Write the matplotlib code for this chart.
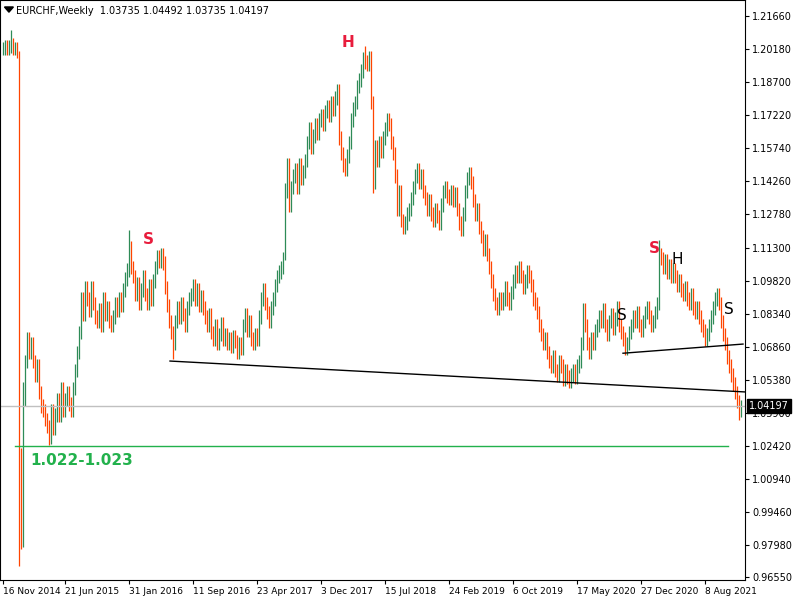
import matplotlib
matplotlib.use("Agg")
import matplotlib.pyplot as plt

closes = [1.202,1.203,1.202,1.203,1.204,1.202,1.202,1.201,
          1.012,0.985,1.045,
          1.062,1.072,1.066,1.070, 1.062,1.056,1.060,1.048, 1.042,1.040,1.036,
          1.033,1.028,1.040,1.032,1.038, 1.045,1.038,1.050,1.040,1.045,
          1.048,1.043,1.040,1.050,1.058, 1.066,1.075, 1.090,1.083,1.095,
          1.090,1.085,1.095,1.088,1.082,
          1.080,1.085,1.078,1.090,1.083,1.086,1.080,1.078,1.082,1.088,
          1.085,1.090,1.087,1.094,1.099,1.103, 1.113,1.104,
          1.100,1.092,1.097,1.088, 1.094,1.100,1.092,1.088,1.096,1.090,1.098,
          1.104,1.109,1.107,1.110,1.106, 1.095,1.087,1.080,1.075, 1.070,
          1.080,1.086,1.082,1.088,1.083,1.078,1.086,1.090,
          1.092,1.096,1.090,1.094,1.087,1.091,1.086,
          1.082,1.078,1.083,1.075,1.072,1.078,1.070,1.074,1.079,1.072,
          1.074,1.070,1.072,1.069,1.073,1.071,
          1.066,1.070,1.068,1.078,1.083,1.076,1.080,1.072,1.070,1.074,1.072,
          1.082,1.090,1.094,1.088,1.084,1.080,1.086,1.090,1.096,1.100,
          1.102,1.104,1.108, 1.138, 1.150,1.132,1.140,1.145,
          1.148,1.140,1.150,1.144,1.147,1.152,
          1.160,1.166,1.158,1.163,1.168,1.164,1.170,
          1.172,1.168,1.174,1.176,1.172,1.178,1.175,1.180,1.183,
          1.162,1.155,1.150,1.148,1.154,1.160,1.170,
          1.175,1.178,1.185,1.188,1.192, 1.200,1.196,1.195,1.198,
          1.178,1.142, 1.158,1.152,1.160,1.156,
          1.162,1.166,1.170,1.168,1.160,1.155, 1.145,1.130,1.138,1.125,
          1.122,1.124,1.128,1.130,1.135, 1.140,1.145,1.148,1.142,1.145,1.138,1.135,
          1.130,1.134,1.128,1.125,1.130,1.127,1.124,1.132,
          1.138,1.140,1.136,1.135,1.138,1.134,1.137,1.130,
          1.124,1.121,1.128, 1.138,1.144,1.146,1.142,
          1.134,1.128,1.130,1.122,1.118,1.112,1.116,1.110,1.104,
          1.098,1.092,1.088,1.086,1.090, 1.088,1.090,1.095,1.090,1.088,1.093,
          1.098,1.102,1.100,1.104,1.100,1.095,1.098,1.102,1.100,1.096,
          1.090,1.088,1.084,1.078,1.074,1.070,1.072,1.066,
          1.062,1.060,1.064,1.058,1.056,1.062,1.060,1.054,1.058,1.055,1.053,
          1.056,1.058,1.055,1.060,1.062, 1.070,1.085,
          1.078,1.070,1.066,1.072,1.070,1.076,
          1.078,1.082,1.080,1.085,1.078,1.074,1.080,1.083,1.077,1.081,1.086,1.078,1.075,
          1.072,1.068,1.070,1.075,
          1.078,1.082,1.080,1.084,1.078,1.076,1.080,1.084,1.086,1.082,1.078,1.080,1.084,1.088,
          1.110,1.108, 1.104,1.107,1.102,1.105,1.100,1.103,
          1.100,1.096,1.098,1.094,1.092,1.095,1.090,1.088,1.092,1.086,1.084,1.086,
          1.082,1.078,1.076,1.072,1.074, 1.078,1.082,1.086,1.090,1.092,1.088,
          1.080,1.074,1.070,1.064, 1.060,1.056,1.052, 1.048,1.044,1.039,1.04197]

high_override = {4: 1.2103, 8: 1.2010, 9: 1.0232, 10: 1.0530, 63: 1.1208,
                 141: 1.1418, 180: 1.2005, 328: 1.1163, 369: 1.04492}
low_override = {8: 0.9704, 9: 0.9780, 10: 0.9790, 23: 1.0246, 85: 1.0631,
                141: 1.1074, 185: 1.1374, 369: 1.03735}
wick = 0.003

x_labels = ["16 Nov 2014", "21 Jun 2015", "31 Jan 2016", "11 Sep 2016", "23 Apr 2017",
            "3 Dec 2017", "15 Jul 2018", "24 Feb 2019", "6 Oct 2019", "17 May 2020",
            "27 Dec 2020", "8 Aug 2021"]
x_label_idx = [0, 31, 63, 95, 127, 159, 191, 223, 255, 287, 319, 351]
y_ticks = [1.21660, 1.20180, 1.18700, 1.17220, 1.15740, 1.14260, 1.12780, 1.11300,
           1.09820, 1.08340, 1.06860, 1.05380, 1.03900, 1.02420, 1.00940, 0.99460,
           0.97980, 0.96550]

fig = plt.figure(figsize=(8, 6), dpi=100)
ax = fig.add_axes([0.0, 20/600, 745/800, 580/600])
ymin, ymax = 0.9642, 1.2238
ax.set_ylim(ymin, ymax)
ax.set_xlim(-1.5, 371)

up_c, dn_c = "#2e8b57", "#ff4500"
prev = closes[0]
for i, c in enumerate(closes):
    o = prev
    h = high_override.get(i, max(o, c) + wick)
    l = low_override.get(i, min(o, c) - wick)
    ax.vlines(i, l, h, color=up_c if c >= o else dn_c, lw=0.9)
    prev = c

ax.plot([83.5, 372.5], [1.0622, 1.0483], color="black", lw=1)
ax.plot([310, 370], [1.0657, 1.0698], color="black", lw=1)
ax.plot([6, 362.5], [1.0241, 1.0241], color="#22b14c", lw=1)
ax.axhline(closes[-1], color="#c0c0c0", lw=1)

ax.text(13.5, 1.0175, "1.022-1.023", color="#22b14c", fontsize=11,
        fontweight="bold", ha="left", va="center")
for xi, yv, t, col in [(72.5, 1.1166, "S", "#e81c3c"), (172.5, 1.2048, "H", "#e81c3c"),
                       (325.5, 1.1126, "S", "#e81c3c"), (337, 1.1077, "H", "black"),
                       (309.5, 1.0827, "S", "black"), (363, 1.0854, "S", "black")]:
    ax.text(xi, yv, t, color=col, fontsize=11, fontweight="bold" if col != "black" else "normal",
            ha="center", va="center")

ax.yaxis.tick_right()
ax.set_yticks(y_ticks)
ax.set_yticklabels([f"{v:.5f}" for v in y_ticks], fontsize=7)
ax.set_xticks(x_label_idx)
ax.set_xticklabels(x_labels, fontsize=6.5, ha="left")
ax.tick_params(axis="both", length=3, pad=2, colors="black")
for s in ax.spines.values():
    s.set_color("black")
ax.text(1.005, (closes[-1]-ymin)/(ymax-ymin), f"{closes[-1]:.5f}", transform=ax.transAxes,
        fontsize=7, color="white", va="center", ha="left",
        bbox=dict(boxstyle="square,pad=0.2", fc="black", ec="black"), zorder=5)
ax.text(0.022, 0.99, "EURCHF,Weekly  1.03735 1.04492 1.03735 1.04197",
        transform=ax.transAxes, fontsize=7, va="top", ha="left")
ax.fill([0.006, 0.018, 0.012], [0.988, 0.988, 0.979], transform=ax.transAxes, color="black")

fig.savefig("out.png", dpi=100)
